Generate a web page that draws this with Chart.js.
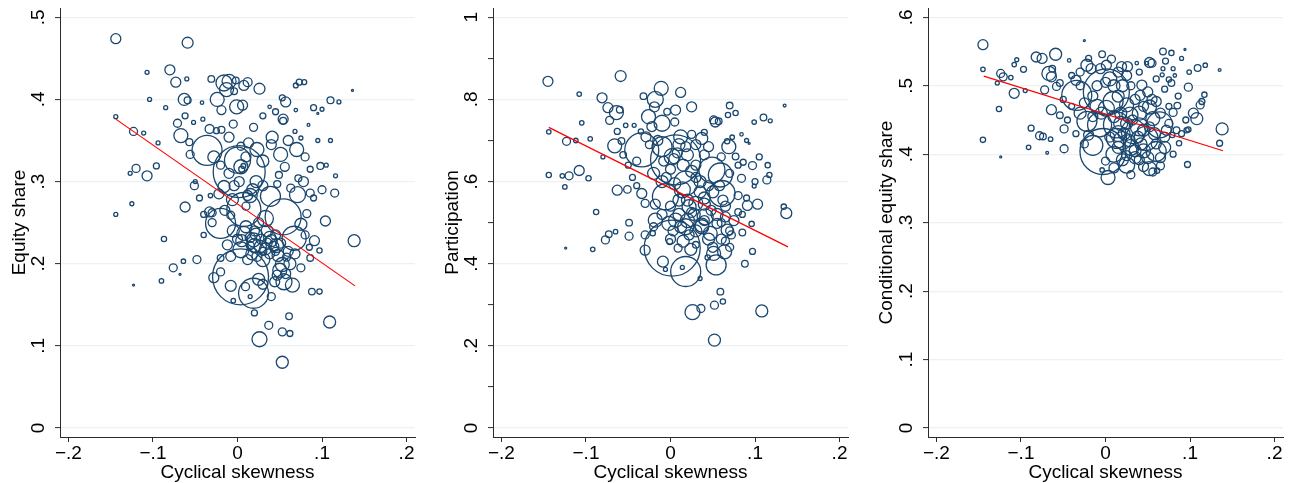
<!DOCTYPE html>
<html><head><meta charset="utf-8">
<script src="https://cdn.jsdelivr.net/npm/chart.js@4/dist/chart.umd.min.js"></script>
<style>
html,body{margin:0;padding:0;background:#fff;}
#wrap{position:relative;width:1291px;height:483px;overflow:hidden;background:#fff;}
canvas{position:absolute;top:0;}
</style></head><body>
<div id="wrap">
<canvas id="c1" width="430" height="483" style="left:0px"></canvas>
<canvas id="c2" width="430" height="483" style="left:430px"></canvas>
<canvas id="c3" width="431" height="483" style="left:860px"></canvas>
</div>
<script>
// ---- shared axis data ----
const xTickValues = [-0.2, -0.1, 0, 0.1, 0.2];
const xTickLabels = ['\u2212.2', '\u2212.1', '0', '.1', '.2'];
const xTitle = 'Cyclical skewness';
const fitX = [-0.144, 0.139];

// ---- panel 1: Equity share ----
const yTitle1 = 'Equity share';
const yTicks1 = [0, 0.1, 0.2, 0.3, 0.4, 0.5];
const yLabels1 = ['0', '.1', '.2', '.3', '.4', '.5'];
const fit1 = [0.376, 0.173];
const x1 = [-0.144,-0.059,-0.107,-0.080,-0.073,-0.104,-0.063,-0.059,-0.042,-0.144,
-0.123,-0.111,-0.094,-0.120,-0.127,-0.107,-0.096,-0.031,-0.016,-0.010,
-0.002,-0.013,-0.024,-0.019,-0.004,0.0075,0.012,0.026,-0.001,0.006,
0.069,0.073,0.079,0.053,0.057,0.038,0.069,0.110,0.120,0.136,
0.100,0.095,0.084,0.054,0.054,0.068,0.075,0.019,0.041,-0.062,
-0.052,-0.041,-0.071,-0.033,-0.019,-0.067,-0.057,-0.056,-0.036,-0.028,
-0.010,0.004,0.013,0.002,0.004,0.000,0.023,0.051,0.056,0.070,
0.086,0.098,0.116,0.115,0.072,0.049,0.047,0.063,0.071,0.086,
-0.051,-0.032,-0.016,-0.004,0.039,-0.125,-0.144,-0.062,-0.087,-0.076,
-0.064,-0.068,-0.048,-0.123,-0.090,-0.033,-0.040,-0.020,-0.008,0.0075,
0.054,0.067,0.082,0.104,0.138,0.091,0.097,0.086,0.0075,0.019,
0.027,0.004,0.035,0.043,0.051,0.053,0.047,0.055,0.065,-0.012,
-0.008,-0.020,0.023,0.0036,0.019,-0.028,-0.008,0.0095,0.025,0.015,
-0.005,0.088,0.097,0.061,0.037,0.053,0.062,0.026,0.109,0.053,
0.015,0.030,0.020,-0.006,0.012,0.010,0.033,-0.030,0.005,0.007,0.045,0.058,
0.010,0.015,0.022,0.028,0.033,0.038,0.017,0.012,0.030,0.040,
0.045,0.048,0.060,0.062,0.050,0.057,0.044,0.035,0.025,0.000,
-0.005,-0.015,-0.022,0.018,0.022,0.030,0.015,0.002,-0.010,-0.020,
0.010,0.030,0.040,0.060,0.080,0.078,0.090,0.100,0.075,0.080,
0.068,0.075,0.085,-0.030,-0.040,-0.045,-0.050,-0.020,0.030,0.040,
0.020,0.005,0.020,0.038,0.046,-0.025,-0.005,0.030,0.045,0.090,
0.095,0.110,0.105,-0.085,-0.060];
const y1 = [0.474,0.469,0.433,0.436,0.421,0.400,0.400,0.399,0.396,0.379,
0.361,0.359,0.347,0.316,0.310,0.307,0.319,0.425,0.420,0.422,
0.423,0.412,0.400,0.387,0.410,0.417,0.421,0.413,0.391,0.393,
0.417,0.421,0.421,0.402,0.397,0.391,0.387,0.399,0.397,0.411,
0.388,0.383,0.369,0.376,0.374,0.361,0.353,0.366,0.354,0.380,
0.372,0.376,0.371,0.364,0.363,0.356,0.348,0.333,0.338,0.330,
0.354,0.343,0.347,0.312,0.318,0.326,0.339,0.333,0.318,0.339,
0.315,0.319,0.307,0.286,0.304,0.308,0.297,0.292,0.284,0.286,
0.295,0.283,0.294,0.295,0.282,0.273,0.260,0.269,0.230,0.195,
0.203,0.187,0.205,0.174,0.179,0.263,0.235,0.249,0.259,0.266,
0.257,0.231,0.261,0.252,0.228,0.228,0.216,0.207,0.237,0.229,
0.221,0.217,0.225,0.221,0.225,0.199,0.186,0.178,0.174,0.223,
0.209,0.207,0.209,0.184,0.164,0.183,0.173,0.172,0.181,0.160,
0.155,0.166,0.166,0.136,0.125,0.117,0.115,0.108,0.129,0.080,
0.222,0.215,0.240,0.278,0.283,0.270,0.255,0.262,0.315,0.319,0.215,0.208,
0.245,0.232,0.236,0.230,0.218,0.212,0.212,0.205,0.205,0.228,
0.235,0.210,0.215,0.200,0.192,0.188,0.178,0.240,0.250,0.230,
0.240,0.265,0.285,0.290,0.300,0.295,0.283,0.300,0.310,0.320,
0.330,0.325,0.345,0.350,0.330,0.300,0.280,0.290,0.248,0.235,
0.212,0.195,0.220,0.250,0.260,0.280,0.300,0.190,0.175,0.160,
0.140,0.228,0.222,0.232,0.222,0.362,0.370,0.380,0.385,0.390,
0.350,0.350,0.320,0.390,0.425];
const w1 = [25,30,4,25,25,4,36,12,3,4,
16,4,4,16,4,25,9,11,64,49,
11,49,49,20,11,25,20,30,49,25,
6,9,6,9,25,3,3,12,4,1,
4,1,2,25,12,4,4,16,36,9,
4,4,16,20,12,49,12,16,225,36,
25,16,25,676,49,169,49,49,20,49,
9,12,4,16,12,12,12,16,64,16,
16,5,36,25,100,4,4,25,7,16,
5,1,16,1,5,25,7,225,16,289,
324,144,16,25,36,25,7,11,49,49,
36,64,25,25,25,49,25,64,49,25,
25,11,25,784,225,25,30,16,36,4,
5,11,7,11,16,16,9,56,36,36,
16,16,25,36,25,16,64,16,9,6,16,16,
36,25,36,25,36,25,36,25,49,36,
25,36,25,36,49,25,25,36,25,25,
36,25,25,36,36,25,49,25,25,16,
25,36,25,25,16,25,9,16,36,16,
25,16,9,16,9,9,4,16,25,16,
9,36,49,36,49,9,16,9,9,9,
4,4,4,4,4];

// ---- panel 2: Participation ----
const yTitle2 = 'Participation';
const yTicks2 = [0, 0.1, 0.2, 0.3, 0.4, 0.5, 0.6, 0.7, 0.8, 0.9, 1];
const yLabels2 = ['0', '', '.2', '', '.4', '', '.6', '', '.8', '', '1'];
const fit2 = [0.732, 0.441];
const x2 = [-0.145,-0.059,-0.108,-0.081,-0.074,-0.064,-0.060,-0.072,-0.105,-0.144,
-0.123,-0.112,-0.095,-0.063,-0.053,-0.043,-0.066,-0.058,-0.056,-0.144,
-0.128,-0.120,-0.108,-0.097,-0.125,-0.088,-0.063,-0.051,-0.032,-0.011,
-0.018,-0.019,0.012,0.025,0.006,-0.004,-0.026,-0.010,0.005,-0.022,
-0.035,-0.029,-0.034,-0.010,0.012,0.018,0.006,0.002,0.004,0.037,
0.045,0.051,0.053,0.057,0.070,0.068,0.077,0.069,0.073,0.067,
0.049,0.059,0.077,0.086,0.097,0.115,0.084,0.114,0.117,0.099,
0.103,0.091,0.080,0.080,0.096,0.099,0.110,0.118,0.135,0.134,
0.137,0.093,0.084,0.018,0.014,-0.006,-0.034,-0.030,-0.018,0.022,
0.030,0.041,0.061,0.065,0.006,0.037,-0.018,0.055,-0.124,-0.092,
-0.077,-0.073,-0.065,-0.049,-0.049,-0.030,0.002,0.018,-0.009,-0.006,
0.014,-0.021,-0.001,0.009,0.024,0.030,0.051,0.064,0.054,0.044,
0.035,0.085,0.097,0.088,0.059,0.062,0.052,0.036,0.026,0.108,
0.052,-0.002,0.018,0.037,0.047,0.067,0.072,0.060,0.010,0.025,
0.020,-0.010,0.030,-0.020,0.040,
0.010,0.020,0.008,0.015,0.000,-0.008,0.025,0.030,0.035,0.045,
0.050,0.040,0.048,0.028,0.020,0.012,0.003,0.030,0.045,0.060,
0.070,0.075,0.065,0.058,0.070,0.080,0.060,0.040,0.030,0.025,
-0.015,-0.025,-0.040,-0.045,-0.040,-0.010,-0.020,-0.030,0.000,0.015,
0.022,0.040,0.055,0.062,0.010,0.000,0.035,-0.005,0.005,0.050,
0.070,0.065,0.085,0.090,0.100,0.105,0.090,0.040,-0.050,-0.080];
const y2 = [0.844,0.857,0.813,0.804,0.780,0.768,0.775,0.749,0.743,0.721,
0.698,0.700,0.704,0.722,0.737,0.737,0.687,0.699,0.665,0.616,
0.614,0.614,0.627,0.608,0.587,0.526,0.579,0.581,0.808,0.827,
0.800,0.782,0.817,0.782,0.774,0.770,0.758,0.742,0.745,0.734,
0.722,0.709,0.677,0.685,0.709,0.685,0.653,0.661,0.656,0.705,
0.685,0.750,0.745,0.747,0.785,0.762,0.767,0.685,0.708,0.698,
0.628,0.616,0.661,0.647,0.639,0.640,0.608,0.604,0.616,0.589,
0.545,0.542,0.566,0.526,0.497,0.745,0.756,0.748,0.785,0.539,
0.523,0.693,0.715,0.596,0.580,0.563,0.571,0.547,0.545,0.539,
0.547,0.514,0.571,0.514,0.506,0.490,0.506,0.498,0.438,0.435,
0.458,0.472,0.478,0.467,0.500,0.433,0.438,0.381,0.405,0.386,
0.391,0.474,0.454,0.438,0.435,0.446,0.425,0.429,0.397,0.415,
0.364,0.476,0.430,0.400,0.332,0.308,0.299,0.291,0.282,0.285,
0.214,0.498,0.490,0.494,0.474,0.482,0.470,0.500,0.520,0.525,
0.555,0.600,0.610,0.620,0.560,
0.690,0.665,0.670,0.640,0.630,0.650,0.625,0.640,0.600,0.590,
0.575,0.545,0.530,0.520,0.505,0.490,0.480,0.480,0.460,0.460,
0.480,0.505,0.540,0.590,0.620,0.640,0.660,0.665,0.690,0.715,
0.700,0.690,0.650,0.610,0.590,0.520,0.490,0.470,0.460,0.455,
0.470,0.505,0.520,0.555,0.555,0.540,0.575,0.610,0.595,0.440,
0.440,0.455,0.520,0.560,0.600,0.660,0.700,0.720,0.640,0.660];
const w2 = [25,30,5,25,25,49,11,16,5,5,
16,5,5,9,5,4,49,11,11,7,
5,16,25,7,5,7,25,14,11,49,
64,25,25,25,25,11,49,64,16,25,
7,25,289,100,49,25,625,64,25,36,
25,16,25,11,11,7,7,49,5,7,
169,144,11,9,16,7,16,16,7,4,
25,25,16,11,7,5,11,4,2,7,
30,1,3,144,64,169,25,16,25,49,
49,64,169,25,49,49,49,25,1,5,
16,11,5,16,11,25,784,225,30,4,
4,7,9,16,36,11,49,49,100,7,
4,11,9,11,11,7,16,16,56,36,
36,49,64,49,49,36,16,16,36,25,
36,36,25,36,36,
36,36,25,36,25,25,36,25,36,25,
36,36,25,36,49,36,25,36,36,25,
16,25,25,25,16,9,16,25,25,16,
25,16,16,9,9,25,16,16,25,36,
25,25,36,25,36,25,36,25,36,25,
16,16,9,9,9,9,4,9,9,4];

// ---- panel 3: Conditional equity share ----
const yTitle3 = 'Conditional equity share';
const yTicks3 = [0, 0.1, 0.2, 0.3, 0.4, 0.5, 0.6];
const yLabels3 = ['0', '.1', '.2', '.3', '.4', '.5', '.6'];
const fit3 = [0.514, 0.405];
const x3 = [-0.145,-0.145,-0.145,-0.124,-0.128,-0.126,-0.124,-0.121,-0.112,-0.108,
-0.108,-0.105,-0.097,-0.095,-0.091,-0.088,-0.078,-0.074,-0.065,-0.069,
-0.082,-0.075,-0.059,-0.063,-0.067,-0.064,-0.072,-0.058,-0.054,-0.064,
-0.054,-0.049,-0.049,-0.025,-0.043,-0.035,-0.034,-0.022,-0.017,-0.006,
0.001,-0.004,0.007,0.019,0.026,0.037,0.001,0.001,0.009,0.013,
-0.007,-0.022,-0.015,-0.003,0.003,-0.004,0.025,0.013,0.033,0.029,
0.025,0.041,0.050,0.052,0.060,0.056,0.064,0.048,0.060,0.052,
0.056,0.061,0.043,0.049,0.052,0.055,0.068,0.078,0.071,0.067,
0.068,0.075,0.078,0.094,0.082,0.086,0.098,0.099,0.109,0.118,
0.135,0.117,0.114,0.112,0.104,0.108,0.085,0.080,0.084,0.096,
0.098,0.079,0.072,0.087,0.097,0.138,0.135,0.015,0.020,0.030,
0.040,0.010,0.035,0.045,-0.010,0.005,0.020,-0.030,0.070,0.040,
0.018,-0.020,
0.010,0.018,0.025,0.032,0.038,0.022,0.028,0.015,0.005,0.045,
0.052,0.058,0.060,0.042,0.035,0.025,0.020,0.040,0.050,0.065,
0.070,0.075,0.065,0.055,0.045,0.035,0.015,0.010,0.000,-0.010,
-0.015,-0.005,-0.015,-0.025,-0.030,0.015,0.025,0.030,-0.040,-0.045,
-0.035,-0.025,0.000,0.010,0.030,0.045,0.065,0.080,0.090,0.095,
0.075,0.070,0.060,0.040,-0.020,-0.030,0.080,0.090,-0.050,-0.040];
const y3 = [0.560,0.524,0.421,0.396,0.504,0.466,0.518,0.513,0.512,0.489,
0.531,0.538,0.524,0.493,0.410,0.438,0.427,0.426,0.422,0.402,
0.542,0.540,0.546,0.525,0.518,0.513,0.494,0.499,0.504,0.465,
0.457,0.408,0.437,0.566,0.537,0.508,0.486,0.530,0.525,0.525,
0.530,0.546,0.539,0.528,0.528,0.533,0.491,0.467,0.477,0.443,
0.443,0.448,0.413,0.404,0.366,0.377,0.384,0.423,0.433,0.457,
0.472,0.486,0.491,0.469,0.477,0.452,0.443,0.423,0.404,0.379,
0.374,0.376,0.501,0.533,0.534,0.533,0.550,0.548,0.536,0.516,
0.525,0.509,0.504,0.553,0.515,0.485,0.498,0.520,0.526,0.530,
0.523,0.487,0.477,0.472,0.460,0.452,0.471,0.461,0.435,0.435,
0.436,0.428,0.435,0.416,0.385,0.437,0.416,0.430,0.420,0.410,
0.440,0.400,0.395,0.405,0.470,0.510,0.500,0.460,0.410,0.460,
0.445,0.428,
0.455,0.460,0.445,0.450,0.425,0.430,0.420,0.410,0.425,0.435,
0.440,0.430,0.415,0.415,0.405,0.398,0.392,0.392,0.395,0.395,
0.425,0.445,0.460,0.480,0.470,0.480,0.485,0.500,0.505,0.500,
0.485,0.460,0.455,0.475,0.500,0.520,0.515,0.500,0.470,0.450,
0.430,0.415,0.390,0.380,0.370,0.382,0.383,0.400,0.430,0.450,
0.470,0.495,0.510,0.520,0.540,0.520,0.525,0.540,0.480,0.515];
const w3 = [25,5,7,1,4,7,16,16,5,25,
5,4,9,4,5,9,16,11,5,2,
25,25,36,11,49,25,16,16,11,25,
11,16,16,1,3,25,225,36,25,25,
25,11,16,25,25,3,529,64,100,169,
144,100,100,529,49,5,64,100,144,64,
49,25,25,49,25,49,169,144,100,49,
16,7,25,3,25,16,11,7,9,4,
4,7,11,1,3,9,16,5,11,5,
2,7,9,16,25,36,11,16,11,7,
7,7,25,7,9,36,9,64,81,64,
81,64,36,49,49,49,36,36,36,49,
49,25,
36,36,36,25,36,36,36,36,25,36,
25,36,25,36,36,25,36,25,36,25,
25,16,25,25,25,25,36,36,25,25,
25,36,25,25,16,25,25,16,9,9,
9,16,16,25,16,25,16,9,9,9,
9,9,9,9,9,16,4,4,9,9];

const FONT = 'Liberation Sans, Arial, Helvetica, sans-serif';
const NAVY = '#1a476f', GRID = '#eaf2f3', AXIS = '#2b2b2b', RED = '#ff0000';

function makeChart(id, p) {
  const ctx = document.getElementById(id).getContext('2d');
  return new Chart(ctx, {
    type: 'bubble',
    data: {
      datasets: [
        { type: 'line', data: fitX.map((x, i) => ({ x: x, y: p.fit[i] })), borderColor: RED, borderWidth: 1.2,
          pointRadius: 0, fill: false, tension: 0 },
        { type: 'bubble', data: p.xs.map((x, i) => ({ x: x, y: p.ys[i], r: Math.sqrt(p.ws[i]) })),
          backgroundColor: 'rgba(0,0,0,0)', borderColor: NAVY, borderWidth: 1.3, hoverRadius: 0 }
      ]
    },
    options: {
      responsive: false, animation: false, devicePixelRatio: 1, events: [],
      layout: { autoPadding: false, padding: { left: 0, right: p.padRight, top: 8, bottom: 0 } },
      plugins: { legend: { display: false }, tooltip: { enabled: false } },
      scales: {
        x: {
          type: 'linear', min: -0.21, max: 0.21,
          afterBuildTicks: s => { s.ticks = xTickValues.map(v => ({ value: v })); },
          afterFit: s => { s.height = 46; s.paddingLeft = 0; s.paddingRight = 0; s.paddingTop = 0; s.paddingBottom = 0; },
          ticks: { callback: (v, i) => xTickLabels[i], font: { family: FONT, size: 19 }, color: '#000',
                   padding: 0, maxRotation: 0, minRotation: 0, autoSkip: false },
          grid: { drawOnChartArea: false, drawTicks: true, tickLength: 5, tickColor: AXIS, tickWidth: 1 },
          border: { display: true, color: AXIS, width: 1 },
          title: { display: true, text: xTitle, font: { family: FONT, size: 19 }, color: '#000', padding: { top: 0, bottom: -1 } }
        },
        y: {
          type: 'linear', min: p.yMin, max: p.yMax,
          afterBuildTicks: s => { s.ticks = p.yTicks.map(v => ({ value: v })); },
          afterFit: s => { s.width = p.axisW; s.paddingLeft = 0; s.paddingRight = 0; s.paddingTop = 0; s.paddingBottom = 0; },
          ticks: { callback: (v, i) => p.yLabels[i], font: { family: FONT, size: 19 }, color: '#000',
                   minRotation: 90, maxRotation: 90, crossAlign: 'center', padding: 8, autoSkip: false },
          grid: { color: c => (p.yLabels[c.index] ? GRID : 'rgba(0,0,0,0)'), lineWidth: 1.2,
                  tickLength: 5, tickColor: AXIS, tickWidth: 1 },
          border: { display: true, color: AXIS, width: 1 },
          title: { display: true, text: p.yTitle, font: { family: FONT, size: 19 }, color: '#000',
                   padding: { top: p.titlePad, bottom: 0 } }
        }
      }
    }
  });
}

makeChart('c1', { xs: x1, ys: y1, ws: w1, fit: fit1, yTicks: yTicks1, yLabels: yLabels1,
  yMin: -0.011, yMax: 0.5113, yTitle: yTitle1, axisW: 60, padRight: 15, titlePad: 8.5 });
makeChart('c2', { xs: x2, ys: y2, ws: w2, fit: fit2, yTicks: yTicks2, yLabels: yLabels2,
  yMin: -0.0219, yMax: 1.0226, yTitle: yTitle2, axisW: 63, padRight: 12, titlePad: 11 });
makeChart('c3', { xs: x3, ys: y3, ws: w3, fit: fit3, yTicks: yTicks3, yLabels: yLabels3,
  yMin: -0.0131, yMax: 0.6136, yTitle: yTitle3, axisW: 68, padRight: 8, titlePad: 15.3 });
</script>
</body></html>
